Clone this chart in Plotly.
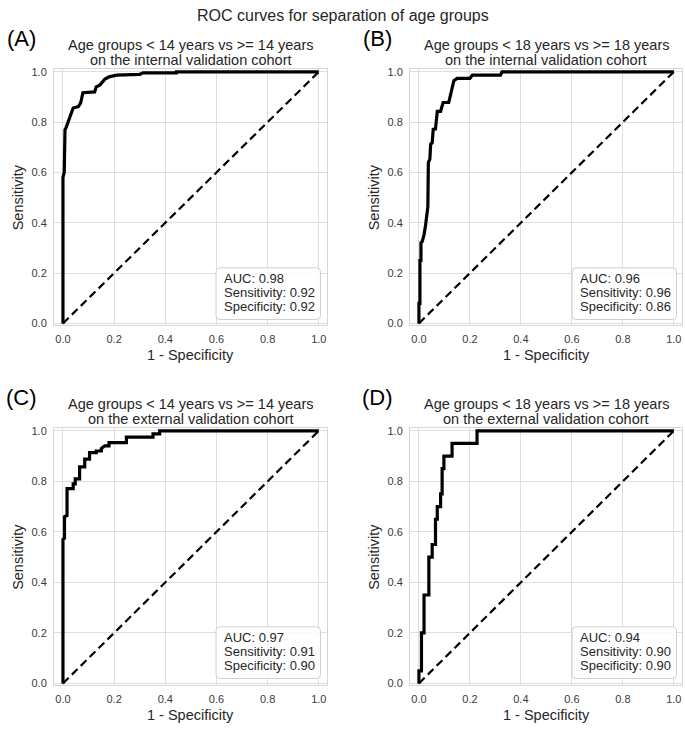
import plotly.graph_objects as go

W, H = 685, 729

# ---------------- data ----------------
fpr_a = [0, 0, 0.005, 0.005, 0.008, 0.008, 0.013, 0.02, 0.03, 0.04, 0.06, 0.069, 0.078, 0.124,
         0.13, 0.144, 0.163, 0.18, 0.21, 0.30, 0.313, 0.443, 0.443, 1.0]
tpr_a = [0, 0.58, 0.60, 0.62, 0.64, 0.77, 0.78, 0.80, 0.836, 0.856, 0.862, 0.876, 0.917, 0.92,
         0.94, 0.947, 0.97, 0.98, 0.987, 0.99, 0.996, 0.996, 1.0, 1.0]

fpr_b = [0, 0, 0.004, 0.004, 0.008, 0.008, 0.013, 0.02, 0.026, 0.03, 0.035, 0.037, 0.043, 0.046,
         0.052, 0.056, 0.065, 0.072, 0.085, 0.095, 0.117, 0.124, 0.13, 0.137, 0.15, 0.2, 0.21,
         0.32, 0.326, 1.0]
tpr_b = [0, 0.08, 0.08, 0.25, 0.25, 0.32, 0.326, 0.352, 0.39, 0.417, 0.463, 0.64, 0.653, 0.712,
         0.718, 0.771, 0.773, 0.843, 0.843, 0.878, 0.878, 0.908, 0.934, 0.965, 0.974, 0.974, 0.987,
         0.987, 1.0, 1.0]

fpr_c = [0, 0, 0.006, 0.006, 0.016, 0.016, 0.04, 0.04, 0.048, 0.048, 0.065, 0.065, 0.085, 0.085,
         0.104, 0.104, 0.13, 0.13, 0.15, 0.15, 0.163, 0.18, 0.18, 0.248, 0.248, 0.352, 0.352,
         0.378, 0.378, 1.0]
tpr_c = [0, 0.57, 0.575, 0.66, 0.665, 0.771, 0.771, 0.79, 0.79, 0.81, 0.81, 0.857, 0.857, 0.888,
         0.888, 0.914, 0.914, 0.92, 0.92, 0.93, 0.94, 0.94, 0.953, 0.953, 0.975, 0.975, 0.988,
         0.988, 1.0, 1.0]

fpr_d = [0, 0, 0.01, 0.01, 0.02, 0.02, 0.039, 0.039, 0.052, 0.052, 0.065, 0.065, 0.072, 0.072,
         0.085, 0.085, 0.091, 0.091, 0.098, 0.098, 0.13, 0.13, 0.228, 0.228, 1.0]
tpr_d = [0, 0.05, 0.05, 0.2, 0.2, 0.35, 0.35, 0.5, 0.5, 0.55, 0.55, 0.65, 0.65, 0.7, 0.7, 0.75,
         0.75, 0.85, 0.85, 0.9, 0.9, 0.95, 0.95, 1.0, 1.0]

diag = [0, 1]

panel_labels = ["(A)", "(B)", "(C)", "(D)"]
title_line1 = ["Age groups < 14 years vs >= 14 years", "Age groups < 18 years vs >= 18 years",
               "Age groups < 14 years vs >= 14 years", "Age groups < 18 years vs >= 18 years"]
title_line2 = ["on the internal validation cohort", "on the internal validation cohort",
               "on the external validation cohort", "on the external validation cohort"]
auc = [0.98, 0.96, 0.97, 0.94]
sens = [0.92, 0.96, 0.91, 0.90]
spec = [0.92, 0.86, 0.90, 0.90]
tick_vals = [0.0, 0.2, 0.4, 0.6, 0.8, 1.0]
tick_text = ["0.0", "0.2", "0.4", "0.6", "0.8", "1.0"]

curves = [(fpr_a, tpr_a), (fpr_b, tpr_b), (fpr_c, tpr_c), (fpr_d, tpr_d)]

# ---------------- layout geometry (pixels) ----------------
frames = [  # left, right, top, bottom
    (54, 327, 66, 325),
    (410, 682, 66, 325),
    (54, 327, 429, 689),
    (410, 682, 429, 689),
]
XR = [-0.035, 1.032]
YR = [-0.008, 1.01]

FONT = "Liberation Sans, Arial, sans-serif"
TXT = "#262626"


def px(x):
    return x / W


def py(y):
    return 1 - y / H


fig = go.Figure()
annotations = []
shapes = []

for i, (fx, fy) in enumerate(curves):
    l, r, t, b = frames[i]
    n = "" if i == 0 else str(i + 1)
    xa, ya = "x" + n, "y" + n
    fig.add_trace(go.Scatter(x=diag, y=diag, mode="lines", xaxis=xa, yaxis=ya,
                             line=dict(color="black", width=2.2, dash="8px,4.5px"),
                             showlegend=False, hoverinfo="skip"))
    fig.add_trace(go.Scatter(x=fx, y=fy, mode="lines", xaxis=xa, yaxis=ya,
                             line=dict(color="black", width=3.2),
                             showlegend=False))
    axcommon = dict(showgrid=True, gridcolor="#dedede", gridwidth=1,
                    zeroline=False, showline=True, linecolor="#d6d6d6", linewidth=1, mirror=True,
                    tickvals=tick_vals, ticktext=tick_text, ticks="",
                    tickfont=dict(family=FONT, size=11, color="#3a3a3a"))
    xd = dict(axcommon, range=XR, domain=[px(l), px(r)], anchor=ya, ticklabelstandoff=3)
    yd = dict(axcommon, range=YR, domain=[py(b), py(t)], anchor=xa, ticklabelstandoff=4)
    fig.update_layout(**{("xaxis" + n): xd, ("yaxis" + n): yd})

    cx = (l + r) / 2
    cy = (t + b) / 2
    # subplot titles
    annotations.append(dict(text=title_line1[i], x=px(cx), y=py(t - 25), xref="paper", yref="paper",
                            showarrow=False, xanchor="center", yanchor="middle",
                            font=dict(family=FONT, size=14.5, color=TXT)))
    annotations.append(dict(text=title_line2[i], x=px(cx), y=py(t - 9.5), xref="paper", yref="paper",
                            showarrow=False, xanchor="center", yanchor="middle",
                            font=dict(family=FONT, size=14.5, color=TXT)))
    # panel letter
    annotations.append(dict(text=panel_labels[i], x=px(l - 33), y=py(t - 31), xref="paper", yref="paper",
                            showarrow=False, xanchor="center", yanchor="middle",
                            font=dict(family=FONT, size=22, color="black")))
    # axis titles
    annotations.append(dict(text="Sensitivity", x=px(l - 36), y=py(cy), xref="paper", yref="paper",
                            showarrow=False, textangle=-90, xanchor="center", yanchor="middle",
                            font=dict(family=FONT, size=14.5, color=TXT)))
    annotations.append(dict(text="1 - Specificity", x=px(cx), y=py(b + 30), xref="paper", yref="paper",
                            showarrow=False, xanchor="center", yanchor="middle",
                            font=dict(family=FONT, size=14.5, color=TXT)))

    # info box (in pixels relative to frame)
    bl, br, bt, bb = l + 162, l + 266.5, t + 200.7, t + 253
    rad = 4
    path = (f"M {px(bl+rad)},{py(bt)} L {px(br-rad)},{py(bt)} Q {px(br)},{py(bt)} {px(br)},{py(bt+rad)} "
            f"L {px(br)},{py(bb-rad)} Q {px(br)},{py(bb)} {px(br-rad)},{py(bb)} "
            f"L {px(bl+rad)},{py(bb)} Q {px(bl)},{py(bb)} {px(bl)},{py(bb-rad)} "
            f"L {px(bl)},{py(bt+rad)} Q {px(bl)},{py(bt)} {px(bl+rad)},{py(bt)} Z")
    shapes.append(dict(type="path", path=path, xref="paper", yref="paper",
                       line=dict(color="#d0d0d0", width=1), fillcolor="rgba(255,255,255,0.85)",
                       layer="above"))
    lines = [f"AUC: {auc[i]:.2f}", f"Sensitivity: {sens[i]:.2f}", f"Specificity: {spec[i]:.2f}"]
    for k, s in enumerate(lines):
        annotations.append(dict(text=s, x=px(bl + 5.5), y=py(bt + 11 + 14.2 * k), xref="paper", yref="paper",
                                showarrow=False, xanchor="left", yanchor="middle",
                                font=dict(family=FONT, size=13, color=TXT)))

annotations.append(dict(text="ROC curves for separation of age groups", x=0.5, y=py(11.7),
                        xref="paper", yref="paper", showarrow=False, xanchor="center", yanchor="middle",
                        font=dict(family=FONT, size=16, color=TXT)))

fig.update_layout(width=W, height=H, margin=dict(l=0, r=0, t=0, b=0),
                  paper_bgcolor="white", plot_bgcolor="white",
                  annotations=annotations, shapes=shapes, showlegend=False,
                  font=dict(family=FONT, color=TXT))

fig.write_html("out.html", config={"displayModeBar": False},
               post_script="document.body.style.margin='0';document.body.style.overflow='hidden';")
